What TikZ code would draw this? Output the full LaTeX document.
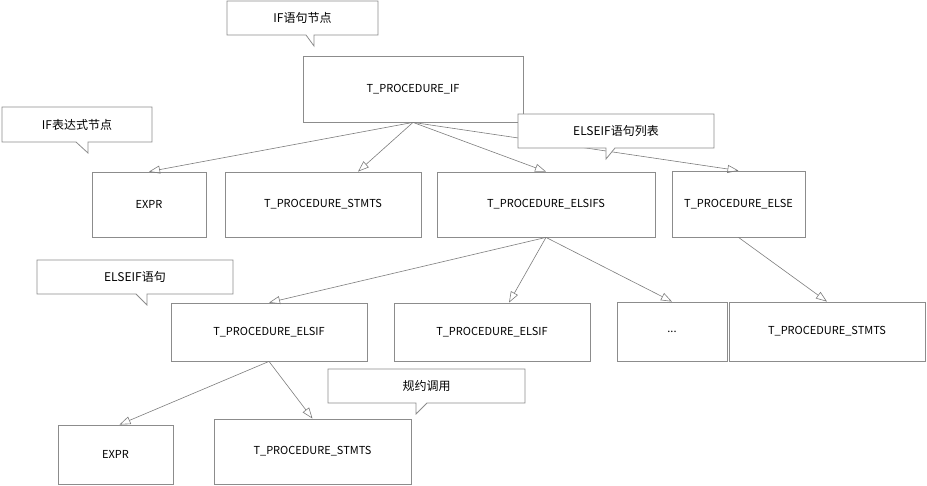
\documentclass[tikz,border=0pt]{standalone}
\usepackage{fontspec}
\setmainfont{Noto Sans CJK SC}
\usetikzlibrary{arrows.meta,calc}
\definecolor{boxgray}{RGB}{140,140,140}
\definecolor{linegray}{RGB}{125,125,125}

\begin{document}
\begin{tikzpicture}[x=1pt,y=-1pt,
    box/.style={draw=boxgray,line width=0.8pt,fill=white,inner sep=0pt,font=\fontsize{11}{13}\selectfont},
    note/.style={draw=boxgray,line width=0.8pt,fill=white},
    notetext/.style={inner sep=0pt,font=\fontsize{12}{14}\selectfont},
    edge/.style={draw=linegray,line width=0.6pt,-{Triangle[open,length=11pt,width=8pt]}}]

\useasboundingbox (0,0) rectangle (927,485);

% ROW 1
  \node[box,minimum width=220,minimum height=66] (if) at (413,89) {T\_PROCEDURE\_IF};

% ROW 2
  \node[box,minimum width=114,minimum height=65] (expra)   at (149,204.5)   {EXPR};
  \node[box,minimum width=196,minimum height=65] (stmtsa)  at (323,204.5)   {T\_PROCEDURE\_STMTS};
  \node[box,minimum width=218,minimum height=65] (elsifs)  at (546,204.5)   {T\_PROCEDURE\_ELSIFS};
  \node[box,minimum width=133,minimum height=66] (else)    at (738.5,204)   {T\_PROCEDURE\_ELSE};

% ROW 3
  \node[box,minimum width=196,minimum height=58] (elsifa)  at (269,332)     {T\_PROCEDURE\_ELSIF};
  \node[box,minimum width=196,minimum height=58] (elsifb)  at (492,332)     {T\_PROCEDURE\_ELSIF};
  \node[box,minimum width=110,minimum height=59] (dots)    at (672,331.5)   {...};
  \node[box,minimum width=196,minimum height=59] (stmtsc)  at (827,331.5)   {T\_PROCEDURE\_STMTS};

% ROW 4
  \node[box,minimum width=115,minimum height=59] (exprb)   at (115.5,454.5) {EXPR};
  \node[box,minimum width=197,minimum height=65] (stmtsb)  at (312.5,451.5) {T\_PROCEDURE\_STMTS};

% EDGES
  \draw[edge] (if.south) -- (expra.north);
  \draw[edge] (if.south) -- ($(stmtsa.north)+(35,0)$);
  \draw[edge] (if.south) -- (elsifs.north);
  \draw[edge] (if.south) -- (else.north);

  \draw[edge] (elsifs.south) -- (elsifa.north);
  \draw[edge] (elsifs.south) -- ($(elsifb.north)+(17,0)$);
  \draw[edge] (elsifs.south) -- (dots.north);
  \draw[edge] (else.south)   -- (stmtsc.north);

  \draw[edge] (elsifa.south) -- ($(exprb.north)+(4,0)$);
  \draw[edge] (elsifa.south) -- (stmtsb.north);

% CALLOUTS
  \draw[note] (227,1) -- (378,1) -- (378,35) -- (314,35) -- (314,46) -- (306,35) -- (227,35) -- cycle;
  \node[notetext] (noteif) at (302.5,18) {IF语句节点};

  \draw[note] (2,107) -- (152,107) -- (152,142) -- (88,142) -- (88,153) -- (76,142) -- (2,142) -- cycle;
  \node[notetext] (noteexpr) at (77,124.5) {IF表达式节点};

  \draw[note] (518,114) -- (714,114) -- (714,148) -- (615,148) -- (606,159) -- (606,148) -- (518,148) -- cycle;
  \node[notetext] (notelist) at (616,131) {ELSEIF语句列表};

  \draw[note] (37,260) -- (233,260) -- (233,294) -- (147,294) -- (147,305) -- (136,294) -- (37,294) -- cycle;
  \node[notetext] (noteelsif) at (135,277) {ELSEIF语句};

  \draw[note] (328,369) -- (525,369) -- (525,403) -- (427,403) -- (416,414) -- (416,403) -- (328,403) -- cycle;
  \node[notetext] (notereduce) at (426.5,386) {规约调用};

\end{tikzpicture}
\end{document}
